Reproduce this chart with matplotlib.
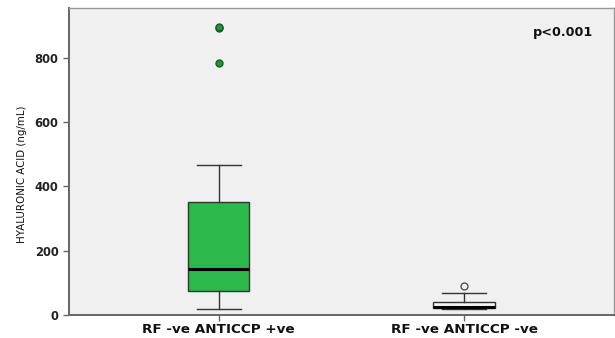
import matplotlib
matplotlib.use("Agg")
import matplotlib.pyplot as plt

categories = ["RF -ve ANTICCP +ve", "RF -ve ANTICCP -ve"]
q1 = [74, 22]
median = [143, 25]
q3 = [353, 40]
whislo = [19, 20]
whishi = [468, 68]
outliers = [[784, 893, 897], [90]]
yticks = [0, 200, 400, 600, 800]
p_text = "p<0.001"

plt.rcParams['font.family'] = ['DejaVu Sans']

fig = plt.figure(figsize=(6.15, 3.38), dpi=100)
ax = fig.add_axes([0.112, 0.068, 0.886, 0.908])
ax.set_facecolor("#f0f0f0")

stats = []
for i, c in enumerate(categories):
    stats.append(dict(label=c, q1=q1[i], med=median[i], q3=q3[i],
                      whislo=whislo[i], whishi=whishi[i], fliers=outliers[i]))

positions = [1, 2]
bp = ax.bxp(stats, positions=positions, widths=0.25, patch_artist=True,
            showfliers=False,
            boxprops=dict(edgecolor="#333333", linewidth=1.0),
            medianprops=dict(color="black", linewidth=2.2),
            whiskerprops=dict(color="#333333", linewidth=1.0),
            capprops=dict(color="#333333", linewidth=1.0),
            capwidths=0.18)
bp['boxes'][0].set_facecolor("#2db84a")
bp['boxes'][1].set_facecolor("#f4f4f4")

# outliers
ax.plot([positions[0]] * len(outliers[0]), outliers[0], 'o', ms=5,
        mfc="#1a9a35", mec="#1d5a28", mew=1.0, linestyle='none')
ax.plot([positions[1]] * len(outliers[1]), outliers[1], 'o', ms=5,
        mfc="none", mec="#444444", mew=0.9, linestyle='none')

ax.set_xlim(0.39, 2.61)
ax.set_ylim(0, 955)
ax.set_yticks(yticks)
ax.set_yticklabels([str(t) for t in yticks], fontsize=8.3, fontweight='bold', color="#222222")
ax.set_xticks(positions)
ax.set_xticklabels(categories, fontsize=9.7, fontweight='bold', color="#111111")
ax.set_ylabel("HYALURONIC ACID (ng/mL)", fontsize=7.4, color="#111111")
ax.yaxis.set_label_coords(-0.077, 0.458)

for s in ["left", "bottom"]:
    ax.spines[s].set_color("#666666")
    ax.spines[s].set_linewidth(1.4)
for s in ["top", "right"]:
    ax.spines[s].set_color("#999999")
    ax.spines[s].set_linewidth(1.0)
ax.tick_params(axis='both', color="#666666", length=4, width=1)
ax.tick_params(axis='x', pad=2)

ax.text(0.962, 0.92, p_text, transform=ax.transAxes, ha='right', va='center',
        fontsize=9.2, fontweight='bold', color="#111111")

fig.savefig("out.png", dpi=100, facecolor="white")
